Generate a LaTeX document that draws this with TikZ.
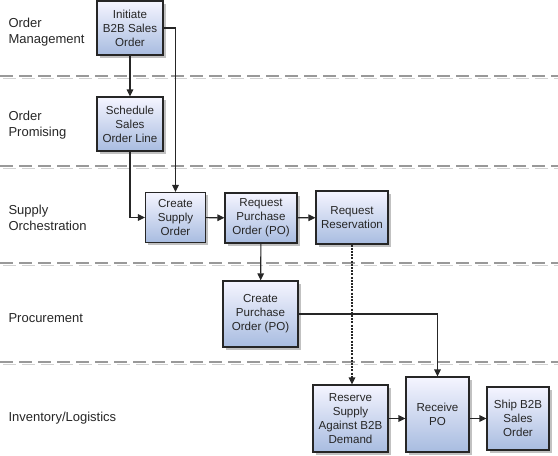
\documentclass[tikz,border=0pt]{standalone}
\usepackage{fontspec}
\setmainfont{Liberation Sans}
\usetikzlibrary{arrows.meta,shadows}
\tikzset{
  box/.style={draw=black!85, line width=1.1pt, inner sep=0pt, align=center,
    top color=blue!4!white, bottom color={rgb,255:red,168;green,188;blue,224},
    drop shadow={shadow xshift=2.5pt, shadow yshift=-2.5pt, fill=black!35, opacity=0.7},
    font=\fontsize{11.6}{14}\selectfont, text=black!85},
  lane/.style={anchor=west, align=left, font=\fontsize{13}{15.5}\selectfont, text=black!85},
  conn/.style={draw=black!85, line width=1.1pt, -{Triangle[length=7pt,width=6.5pt]}},
  dotconn/.style={conn, dash pattern=on 2pt off 1.2pt},
  sep/.style={line width=1.3pt, dash pattern=on 13pt off 6pt},
}
\begin{document}
\begin{tikzpicture}[x=1pt,y=-1pt]
\useasboundingbox (0,0) rectangle (558,456);
% lane separators
\foreach \yy in {76,166,263,362}{
  \draw[sep, draw=black!18] (3,\yy+2.5) -- (558,\yy+2.5);
  \draw[sep, draw=black!40] (0,\yy) -- (558,\yy);
}
% lane labels
\node[lane] (l1) at (5,32) {Order\\Management};
\node[lane] (l2) at (5,125) {Order\\Promising};
\node[lane] (l3) at (5,218) {Supply\\Orchestration};
\node[lane] (l4) at (5,318) {Procurement};
\node[lane] (l5) at (5,418) {Inventory/Logistics};
% boxes
\node[box, minimum width=66pt, minimum height=54pt] (ini) at (130,28) {Initiate\\B2B Sales\\Order};
\node[box, minimum width=66pt, minimum height=54pt] (sch) at (130,124) {Schedule\\Sales\\Order Line};
\node[box, minimum width=60pt, minimum height=50pt] (cso) at (175.5,217.5) {Create\\Supply\\Order};
\node[box, minimum width=72pt, minimum height=50pt] (rpo) at (261,218) {Request\\Purchase\\Order (PO)};
\node[box, minimum width=72pt, minimum height=53pt] (rr) at (352,217.5) {Request\\Reservation};
\node[box, minimum width=75pt, minimum height=66pt] (cpo) at (260.5,314) {Create\\Purchase\\Order (PO)};
\node[box, minimum width=75pt, minimum height=67pt] (res) at (350.5,418.5) {Reserve\\Supply\\Against B2B\\Demand};
\node[box, minimum width=63pt, minimum height=75pt] (rec) at (437.5,414.5) {Receive\\PO};
\node[box, minimum width=62pt, minimum height=63pt] (ship) at (518,418.5) {Ship B2B\\Sales\\Order};
% connectors
\draw[conn] (ini) -- (sch);
\draw[conn] (ini.east) -| (cso.north);
\draw[conn] (sch.south) |- (cso.west);
\draw[conn] (cso) -- (rpo);
\draw[conn] (rpo) -- (rr);
\draw[conn] (rpo) -- (cpo);
\draw[dotconn] (rr.south) -- (rr.south |- res.north);
\draw[conn] (cpo.east) -| (rec.north);
\draw[conn] (res.east) -- (res.east -| rec.west);
\draw[conn] (res.east -| rec.east) -- (res.east -| ship.west);
\end{tikzpicture}
\end{document}
